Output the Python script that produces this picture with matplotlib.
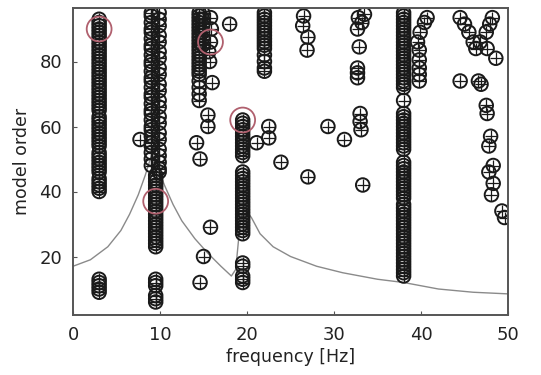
import matplotlib
matplotlib.use("Agg")
import matplotlib.pyplot as plt

# dense pole columns (frequency in Hz, model orders)
col_a_freq = 3.0
col_a_orders = [9, 10, 11, 12, 13, 40, 41, 42, 43, 44, 46, 47, 48, 49, 50, 51, 52,
                54, 55, 56, 57, 58, 59, 60, 61, 62, 63, 65, 66, 67, 68, 69, 70, 71,
                72, 73, 74, 75, 76, 77, 78, 79, 80, 81, 82, 83, 84, 85, 86, 87, 88,
                89, 90, 91, 92, 93]

col_b1_freq = 9.0
col_b1_orders = [48, 50, 52, 54, 55, 57, 59, 60, 62, 64, 65, 67, 69, 70, 72, 74, 75,
                 77, 79, 80, 82, 84, 85, 87, 89, 90, 92, 94, 95]
col_b2_freq = 9.9
col_b2_orders = [46, 47, 49, 51, 53, 56, 58, 61, 63, 66, 68, 71, 73, 76, 78, 81, 83,
                 86, 88, 91, 93, 95]
col_b3_freq = 9.5
col_b3_orders = [6, 7, 8, 11, 12, 13, 23, 24, 25, 26, 27, 28, 29, 30, 31, 32, 33, 34,
                 35, 36, 37, 38, 39, 40, 41, 42, 43, 44, 45]

col_c_freq = 14.5
col_c_orders = [68, 70, 72, 74, 76, 77, 78, 79, 80, 81, 82, 83, 84, 85, 86, 87, 88,
                89, 90, 91, 92, 93, 94, 95]
col_c2_freq = 14.9
col_c2_orders = [85, 87, 89, 91, 93, 95]

col_d_freq = 19.5
col_d_orders = [12, 13, 14, 17, 18, 27, 28, 29, 30, 31, 32, 33, 34, 35, 36, 37, 38,
                39, 40, 41, 42, 43, 44, 45, 46, 51, 52, 53, 54, 55, 56, 57, 58, 59,
                60, 61, 62]

col_e_freq = 22.0
col_e_orders = [77, 78, 80, 82, 84, 85, 86, 87, 88, 89, 90, 91, 92, 93, 94, 95]

col_f_freq = 38.0
col_f_orders = [14, 15, 16, 17, 18, 19, 20, 21, 22, 23, 24, 25, 26, 27, 28, 29, 30,
                31, 32, 33, 34, 35, 36, 38, 39, 40, 41, 42, 43, 44, 45, 46, 47, 48,
                49, 53, 54, 55, 56, 57, 58, 59, 60, 61, 62, 63, 64, 68, 72, 73, 74,
                75, 76, 77, 78, 79, 80, 81, 82, 83, 84, 85, 86, 87, 88, 89, 90, 91,
                92, 93, 94, 95]

# isolated poles
iso_freq = [7.7, 15.8, 15.9, 15.8, 15.6, 15.7, 16.0, 18.0, 15.5, 15.5, 14.2, 14.6,
            15.8, 15.0, 14.6, 21.1, 22.5, 22.5, 23.9,
            26.5, 26.4, 27.0, 26.9, 27.0, 29.3, 31.2, 33.0, 33.0, 33.1, 33.3,
            32.8, 33.2, 33.5, 32.7, 32.9, 32.7, 32.7, 32.7,
            40.7, 40.4, 39.9, 39.6, 39.8, 39.8, 39.8, 39.8, 39.8,
            44.5, 45.0, 45.5, 46.0, 46.3, 48.2, 47.9, 47.5, 46.8, 47.6, 48.6,
            44.5, 46.6, 46.9, 47.5, 47.6, 48.0, 47.8, 48.3, 47.8, 48.3, 48.1,
            49.3, 49.6]
iso_order = [56, 93.5, 90, 86, 83, 80, 73.5, 91.5, 63.5, 60, 55, 50,
             29, 20, 12, 55, 60, 56.5, 49,
             94, 91, 87.5, 83.5, 44.5, 60, 56, 64, 61.5, 59, 42,
             93.5, 92, 94.5, 90, 84.5, 78, 76.5, 75,
             93.5, 92, 89, 86, 83.5, 80.5, 78, 76, 74,
             93.5, 91.5, 89, 86, 84, 93.5, 91.5, 89, 86, 84, 81,
             74, 74, 73, 66.5, 64, 57, 54, 48, 46, 42.5, 39,
             34, 32]

# highlighted (physical) modes
mode_freq = [3.0, 9.5, 15.8, 19.5]
mode_order = [90, 37, 86, 62]

# sum FRF-like curve (scaled onto order axis)
curve_freq = [0, 2, 4, 5.5, 6.5, 7.5, 8.3, 9.0, 9.3, 9.8, 10.5, 11.5, 12.5, 14,
              15.5, 17, 18.2, 18.7, 19.2, 19.6, 20.5, 21.5, 23, 25, 28, 31, 35,
              38, 42, 46, 50]
curve_val = [17, 19, 23, 28, 33, 39, 45, 51, 53, 47, 42, 36, 31, 25.5,
             21, 17, 14, 16, 30, 35, 32, 27, 23, 20, 17, 15, 13,
             12, 10, 9, 8.5]

plt.rcParams['font.family'] = 'DejaVu Sans'
fig = plt.figure(figsize=(5.41, 3.75), dpi=100)
ax = fig.add_axes([0.135, 0.16, 0.804, 0.819])

ax.plot(curve_freq, curve_val, color='#8a8a8a', lw=1.0, zorder=1)

cols = [(col_a_freq, col_a_orders), (col_b1_freq, col_b1_orders),
        (col_b2_freq, col_b2_orders), (col_b3_freq, col_b3_orders),
        (col_c_freq, col_c_orders), (col_c2_freq, col_c2_orders),
        (col_d_freq, col_d_orders), (col_e_freq, col_e_orders),
        (col_f_freq, col_f_orders)]
fx, fy = [], []
for f, orders in cols:
    fx += [f] * len(orders)
    fy += orders
fx += iso_freq
fy += iso_order

ax.scatter(fx, fy, s=95, facecolors='none', edgecolors='#1a1a1a', linewidths=1.4,
           zorder=2)
ax.scatter(fx, fy, s=80, marker='+', color='#1a1a1a', linewidths=0.9, zorder=2)

ax.scatter(mode_freq, mode_order, s=320, facecolors='none', edgecolors='#b0606e',
           linewidths=1.3, zorder=3)

ax.set_xlim(0, 50)
ax.set_ylim(2, 96.5)
ax.set_xticks([0, 10, 20, 30, 40, 50])
ax.set_yticks([20, 40, 60, 80])
ax.tick_params(direction='in', length=3, labelsize=13, colors='#555555',
               labelcolor='#222222', pad=8)
for sp in ax.spines.values():
    sp.set_color('#555555')
    sp.set_linewidth(1.4)
ax.set_xlabel('frequency [Hz]', fontsize=12.5, color='#222222', labelpad=3)
ax.set_ylabel('model order', fontsize=12.5, color='#222222', labelpad=6)

fig.savefig('out.png', dpi=100)
